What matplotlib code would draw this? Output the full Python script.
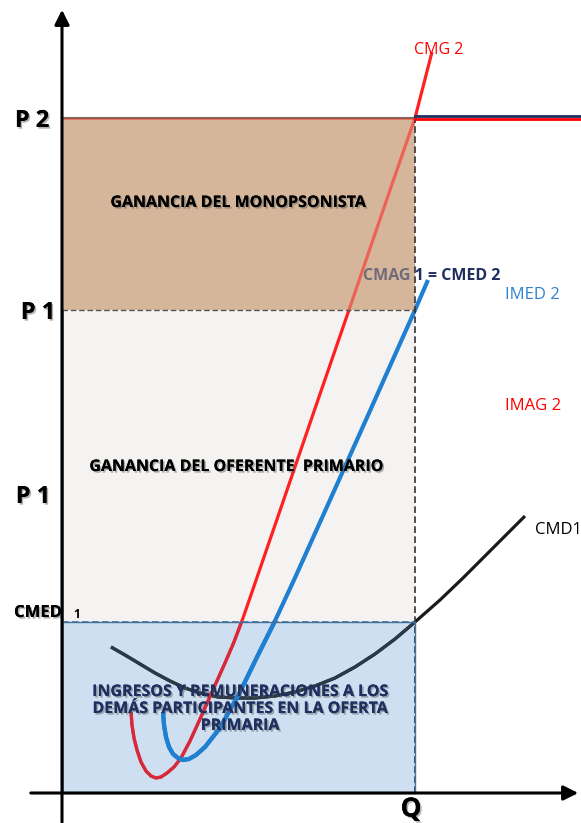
import matplotlib
matplotlib.use('Agg')
import matplotlib.pyplot as plt
import matplotlib.patheffects as pe
from matplotlib.patches import Rectangle

plt.rcParams['font.family'] = ['Open Sans', 'DejaVu Sans']

# niveles (origen en el cruce de los ejes)
P2 = 675
P1 = 483
CMED1 = 171
Q = 353

# curvas
cmg2_x = [69, 70, 72, 75, 79, 84, 89, 94, 99, 105, 112, 119, 128, 138, 150, 163, 172, 181,
          190, 223, 258, 288, 328, 353, 370]
cmg2_y = [81, 68, 55, 43, 31, 22, 17, 15, 16, 20, 26, 35, 52, 74, 101, 130, 151, 175,
          201, 297, 399, 486, 603, 675, 741]

imed2_x = [101, 102, 104, 107, 111, 116, 121, 127, 134, 143, 158, 178, 196, 212, 232, 268,
           303, 353, 366]
imed2_y = [81, 68, 56, 46, 39, 35, 33, 34, 38, 46, 65, 101, 138, 170, 213, 293,
           371, 483, 513]

cmd1_x = [49, 63, 78, 93, 108, 123, 138, 156, 175, 193, 213, 233, 253, 273, 293, 313, 333,
          353, 378, 401, 423, 443, 463]
cmd1_y = [146, 138, 129, 120, 112, 105, 100, 96, 95, 95, 97, 101, 107, 115, 126, 139, 154,
          171, 193, 215, 237, 257, 277]

brown = '#d5b69a'
grey = '#f4f3f1'
blue = '#cddff0'
navy = '#1f2f5f'

fig = plt.figure(figsize=(5.81, 8.23), dpi=100)
ax = fig.add_axes([0, 0, 1, 1])
ax.set_xlim(-62, 519)
ax.set_ylim(-30, 793)
ax.axis('off')

# areas
ax.add_patch(Rectangle((0, P1), Q, P2 - P1, facecolor=brown, edgecolor='none', zorder=1))
ax.add_patch(Rectangle((0, CMED1), Q, P1 - CMED1, facecolor=grey, edgecolor='none', zorder=1))
ax.add_patch(Rectangle((0, 0), Q, CMED1, facecolor=blue, edgecolor='none', zorder=1))

# curvas (tono algo distinto dentro del area azul)
curvas = [(cmd1_x, cmd1_y, '#1a1a1a', '#2b3a48', 2.3),
          (cmg2_x, cmg2_y, '#ff2020', '#d42a3c', 2.3),
          (imed2_x, imed2_y, '#1f7fd0', '#1f7fd0', 3.0)]
for i, (xs, ys, c_out, c_in, lw) in enumerate(curvas):
    z = 2 + i * 0.1
    ax.plot(xs, ys, color=c_out, lw=lw, zorder=z, solid_capstyle='butt')
    ln, = ax.plot(xs, ys, color=c_in, lw=lw, zorder=z + 0.05, solid_capstyle='butt')
    ln.set_clip_path(Rectangle((0, 0), Q, CMED1, transform=ax.transData))

ax.text(301, 517, 'CMAG 1 = CMED 2', color=navy, fontsize=11.5, fontweight='bold',
        va='center', ha='left', zorder=2.5)

# velo semitransparente sobre el area marron
ax.add_patch(Rectangle((0, P1), Q, P2 - P1, facecolor=brown, edgecolor='none', alpha=0.45, zorder=3))

# bordes
ax.plot([0, Q], [P2, P2], color='#7a6a60', lw=1.5, zorder=4)
ax.plot([0, Q], [P2 - 1, P2 - 1], color='#e04030', lw=1.2, alpha=0.6, zorder=4)
ax.plot([0, Q], [P1, P1], color='#555555', lw=1.0, ls=(0, (4, 2)), zorder=4)
ax.plot([Q, Q], [0, P2], color='#333333', lw=1.2, ls=(0, (4, 2)), zorder=4)
ax.plot([0, Q], [CMED1, CMED1], color='#41719c', lw=1.2, ls=(0, (4, 2)), zorder=4)
ax.plot([0, Q, Q, 0], [CMED1, CMED1, 0, 0], color='#41719c', lw=1.0, zorder=4)
ax.plot([1, 1], [0, P1], color='#41719c', lw=1.2, zorder=4)
ax.plot([Q, 519], [P2 + 2, P2 + 2], color=navy, lw=2.0, zorder=4)
ax.plot([Q, 519], [P2 - 1, P2 - 1], color='#ff0000', lw=2.0, zorder=4)

# ejes con flechas
ax.annotate('', xy=(0, 786), xytext=(0, -32),
            arrowprops=dict(arrowstyle='-|>', color='black', lw=2.2, mutation_scale=22), zorder=6)
ax.annotate('', xy=(519, 0), xytext=(-34, 0),
            arrowprops=dict(arrowstyle='-|>', color='black', lw=2.2, mutation_scale=22), zorder=6)

shadow = [pe.withSimplePatchShadow(offset=(1.2, -1.2), shadow_rgbFace='#555555', alpha=0.45), pe.Normal()]

# etiquetas de los ejes
ax.text(-30, 672, 'P 2', fontsize=17, fontweight='bold', ha='center', va='center',
        path_effects=shadow, zorder=5)
ax.text(-24, 480, 'P 1', fontsize=17, fontweight='bold', ha='center', va='center',
        path_effects=shadow, zorder=5)
ax.text(-29, 296, 'P 1', fontsize=17, fontweight='bold', ha='center', va='center',
        path_effects=shadow, zorder=5)
ax.text(-48, 181, 'CMED', fontsize=12, fontweight='bold', ha='left', va='center',
        path_effects=shadow, zorder=3.5)
ax.text(11, 179, '1', fontsize=8.5, fontweight='bold', ha='left', va='center', zorder=5)
ax.text(349, -16, 'Q', fontsize=19, fontweight='bold', ha='center', va='center',
        path_effects=shadow, zorder=5)

# etiquetas de las curvas
ax.text(352, 743, 'CMG 2', color='#ff0000', fontsize=11.5, ha='left', va='center', zorder=5)
ax.text(443, 498, 'IMED 2', color='#2f80cc', fontsize=12, ha='left', va='center', zorder=5)
ax.text(443, 387, 'IMAG 2', color='#ff0000', fontsize=12, ha='left', va='center', zorder=5)
ax.text(473, 263, 'CMD1', color='black', fontsize=12, ha='left', va='center', zorder=5)

# textos de las areas
ax.text(176, 590, 'GANANCIA DEL MONOPSONISTA', fontsize=11.5, fontweight='bold',
        ha='center', va='center', path_effects=shadow, zorder=5)
ax.text(174, 326, 'GANANCIA DEL OFERENTE  PRIMARIO', fontsize=11.5, fontweight='bold',
        ha='center', va='center', path_effects=shadow, zorder=5)
ax.text(178, 84, 'INGRESOS Y REMUNERACIONES A LOS\nDEMÁS PARTICIPANTES EN LA OFERTA\nPRIMARIA',
        color=navy, fontsize=11.5, fontweight='bold', ha='center', va='center',
        linespacing=1.08, path_effects=shadow, zorder=5)

fig.savefig('out.png', dpi=100)
